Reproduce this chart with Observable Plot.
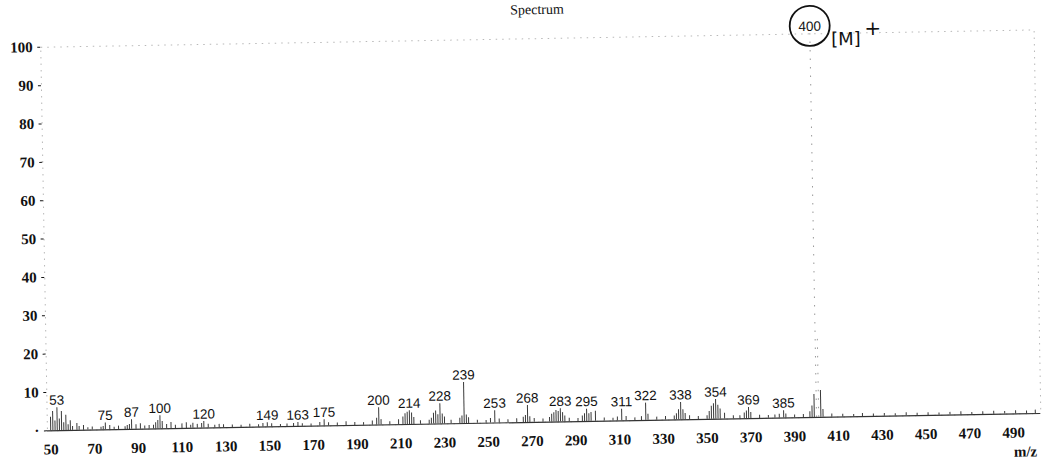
<!DOCTYPE html>
<html>
<head>
<meta charset="utf-8">
<script src="https://cdn.jsdelivr.net/npm/d3@7"></script>
<script src="https://cdn.jsdelivr.net/npm/@observablehq/plot@0.6"></script>
<style>
  html, body { margin: 0; padding: 0; background: #fff; overflow: hidden; }
  /* the printed sheet sits slightly askew */
  #chart svg { transform: rotate(-1deg); }
</style>
</head>
<body>
<div id="chart"></div>
<script>
const title = "Spectrum";
const xAxisLabel = "m/z";

// m/z of each line in the spectrum and its relative abundance (%)
const peakMz = [
  50, 51, 52, 53, 54, 55, 56, 57, 58, 59, 60, 62, 63, 65, 67, 69,
  73, 74, 75, 77, 79, 81, 84, 85, 86, 87, 89, 91, 93, 95,
  97, 98, 99, 100, 101, 103, 105, 107, 110, 112, 114, 115, 117, 119, 120, 122, 125, 127, 129,
  133, 137, 141, 145, 147, 149, 151, 155, 158, 161, 163, 165, 169, 173, 175, 177, 181, 185, 189,
  193, 197, 199, 200, 201, 205, 209, 211, 212, 213, 214, 215, 216, 219, 223, 224, 225, 226, 227, 228, 229, 230, 233, 237, 238, 239, 240, 241, 245,
  249, 251, 253, 255, 259, 263, 266, 267, 268, 269, 271, 275, 278, 279, 280, 281, 282, 283, 284, 285, 287, 291, 293, 294, 295, 296, 297, 299, 303,
  307, 309, 311, 313, 317, 320, 322, 323, 327, 331, 335, 336, 337, 338, 339, 340, 342, 346, 350, 351, 352, 353, 354, 355, 356, 358, 362,
  365, 367, 368, 369, 370, 374, 378, 381, 383, 385, 386, 390, 394,
  397, 398, 399, 400, 401, 402, 403, 407, 412, 417, 421, 426, 431, 436, 441, 446, 451, 456, 461, 466, 471, 476, 481, 486, 491, 496, 500
];
const peakIntensity = [
  3.5, 5.0, 2.5, 6.0, 3.0, 5.0, 2.0, 4.0, 1.5, 2.5, 1.0, 1.8, 1.0, 1.2, 0.6, 0.8,
  0.7, 0.9, 1.8, 1.1, 0.6, 0.9, 0.7, 1.0, 1.3, 2.5, 1.2, 1.4, 0.8, 0.9,
  1.0, 1.6, 2.2, 3.4, 1.9, 1.1, 1.6, 0.9, 1.2, 1.5, 0.8, 1.3, 1.0, 1.2, 1.7, 1.0, 0.7, 0.9, 0.8,
  0.7, 0.6, 0.8, 0.6, 0.9, 1.1, 0.8, 0.6, 0.7, 0.8, 1.0, 0.7, 0.6, 0.9, 1.6, 0.8, 0.7, 1.0, 0.8,
  0.7, 1.1, 1.8, 4.5, 1.4, 0.8, 1.3, 2.0, 2.8, 3.2, 3.6, 3.0, 1.8, 0.9, 1.0, 1.5, 2.8, 3.4, 2.4, 5.3, 2.6, 1.8, 0.9, 1.4, 2.0, 10.7, 2.2, 1.5, 0.8,
  0.7, 1.2, 3.2, 1.0, 0.8, 1.0, 1.4, 1.8, 4.4, 1.5, 1.0, 0.8, 1.2, 2.0, 2.4, 3.0, 2.7, 3.4, 2.4, 1.5, 0.9, 0.8, 1.4, 2.0, 3.2, 2.0, 2.3, 2.6, 0.8,
  0.7, 1.0, 3.0, 1.1, 0.7, 1.0, 4.5, 1.6, 0.8, 0.9, 1.0, 1.6, 2.6, 4.5, 2.6, 1.6, 1.0, 0.8, 0.9, 2.0, 3.4, 4.0, 5.1, 3.6, 2.6, 1.5, 0.8,
  0.8, 1.5, 2.0, 2.9, 1.6, 0.8, 0.7, 0.8, 1.0, 1.9, 1.0, 0.7, 0.8,
  1.5, 3.0, 6.0, 100, 22, 7.0, 2.0, 0.8, 0.7, 0.6, 0.8, 0.6, 0.7, 0.6, 0.8, 0.6, 0.7, 0.6, 0.7, 0.8, 0.6, 0.7, 0.8, 0.7, 0.8, 0.7, 0.9
];

// lines printed with their m/z value
const labeledMz = [53, 75, 87, 100, 120, 149, 163, 175, 200, 214, 228, 239, 253, 268, 283, 295, 311, 322, 338, 354, 369, 385, 400];

// molecular ion, circled by hand and noted as [M]+
const molecularIonMz = 400;
const ionNote = "[M]";
const ionCharge = "+";

const xTicks = [50, 70, 90, 110, 130, 150, 170, 190, 210, 230, 250, 270, 290, 310, 330, 350, 370, 390, 410, 430, 450, 470, 490];
const yTicks = [0, 10, 20, 30, 40, 50, 60, 70, 80, 90, 100];
const xDomain = [48.5, 502.5];
const yDomain = [0, 100];

const peaks = peakMz.map((mz, i) => ({mz, intensity: peakIntensity[i]}));
const labeled = peaks.filter(d => labeledMz.includes(d.mz));
const ion = peaks.filter(d => d.mz === molecularIonMz);
// tall, thin lines came out faint and broken on the printout
const minor = peaks.filter(d => d.intensity < 15);
const major = peaks.filter(d => d.intensity >= 15);

const serif = "'Liberation Serif', 'Times New Roman', serif";
const sans = "'Liberation Sans', Arial, sans-serif";
const hand = "'DejaVu Sans', sans-serif";

const chart = Plot.plot({
  width: 1045,
  height: 458,
  marginLeft: 43.5,
  marginRight: 8,
  marginTop: 38.4,
  marginBottom: 36,
  style: {fontFamily: serif, fontSize: "15px", overflow: "visible", background: "white", color: "#111"},
  x: {domain: xDomain},
  y: {domain: yDomain},
  marks: [
    Plot.frame({stroke: "#b8b8b8", strokeDasharray: "1.5,5"}),
    Plot.ruleY([0], {stroke: "#333", strokeWidth: 1.2}),
    Plot.ruleX(minor, {x: "mz", y: "intensity", stroke: "#3a3a3a", strokeWidth: 1}),
    Plot.ruleX(major, {x: "mz", y: "intensity", stroke: "#999", strokeWidth: 1, strokeDasharray: "1.5,7"}),
    Plot.axisY({
      ticks: yTicks, tickFormat: d => d === 0 ? "·" : String(d),
      tickSize: 3, tickPadding: 5, fontSize: 15, fontWeight: "bold", label: null
    }),
    Plot.axisX({
      ticks: xTicks, tickSize: 0, tickPadding: 13, fontSize: 15, fontWeight: "bold", label: null
    }),
    Plot.text(labeled, {
      x: "mz", y: "intensity", text: d => String(d.mz),
      lineAnchor: "bottom", dy: -3, fontSize: 13.5, fontFamily: sans, fill: "#111"
    }),
    Plot.dot(ion, {x: "mz", y: "intensity", r: 20, dy: -8, stroke: "#111", strokeWidth: 1.8, fill: "none"}),
    Plot.text(ion, {x: "mz", y: "intensity", text: () => ionNote, dx: 36, dy: 6, fontSize: 18, fontFamily: hand, fill: "#111"}),
    Plot.text(ion, {x: "mz", y: "intensity", text: () => ionCharge, dx: 63, dy: -4, fontSize: 20, fontFamily: hand, fill: "#111"}),
    Plot.text([title], {frameAnchor: "top", dy: -29, fontSize: 14, fontFamily: serif, lineAnchor: "middle"}),
    Plot.text([xAxisLabel], {frameAnchor: "bottom-right", textAnchor: "middle", dx: -16, dy: 38, fontSize: 15, fontWeight: "bold", fontFamily: serif, lineAnchor: "middle"})
  ]
});

document.getElementById("chart").append(chart);
</script>
</body>
</html>
